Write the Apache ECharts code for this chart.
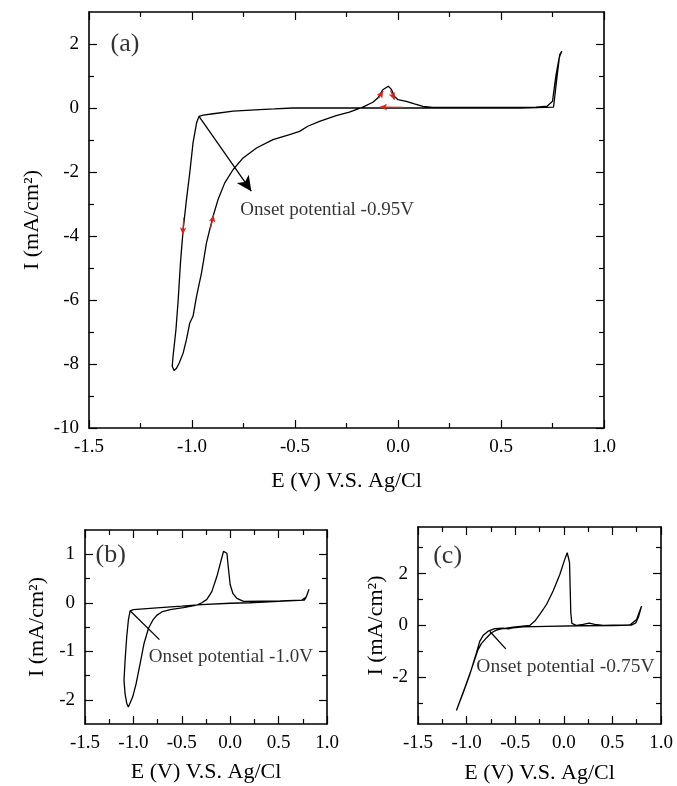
<!DOCTYPE html>
<html>
<head>
<meta charset="utf-8">
<script src="https://cdn.jsdelivr.net/npm/echarts@6/dist/echarts.min.js"></script>
<style>
html,body{margin:0;padding:0;background:#fff;}
#chart{width:677px;height:786px;}
</style>
</head>
<body>
<div id="chart"></div>
<script>
// ---------- DATA ----------
const xMajorTicks = [-1.5, -1.0, -0.5, 0, 0.5, 1.0];
const xMinorTicks = [-1.25, -0.75, -0.25, 0.25, 0.75];
const aYMajorTicks = [-10, -8, -6, -4, -2, 0, 2];
const aYMinorTicks = [-9, -7, -5, -3, -1, 1];
const bYMajorTicks = [-2, -1, 0, 1];
const bYMinorTicks = [-1.5, -0.5, 0.5];
const cYMajorTicks = [-2, 0, 2];
const cYMinorTicks = [-3, -1, 1, 3];

// (a) cyclic voltammogram [E (V), I (mA/cm2)]
const curveA = [
  [0.795,1.77],[0.785,1.67],[0.774,1.09],[0.763,0.47],[0.755,0.03],[0.60,0.0],[0.30,0.0],[0.0,0.0],
  [-0.30,0.0],[-0.51,0.0],[-0.60,-0.03],[-0.672,-0.05],[-0.80,-0.10],[-0.897,-0.18],[-0.946,-0.22],
  [-0.966,-0.26],[-0.978,-0.47],[-0.995,-1.09],[-1.011,-2.03],[-1.027,-2.87],[-1.043,-3.80],
  [-1.056,-4.84],[-1.067,-5.99],[-1.078,-6.93],[-1.092,-7.76],[-1.096,-8.07],[-1.087,-8.20],
  [-1.075,-8.13],[-1.062,-7.97],[-1.043,-7.66],[-1.027,-7.24],[-1.011,-6.72],[-0.995,-6.51],
  [-0.978,-5.89],[-0.954,-5.16],[-0.943,-4.74],[-0.930,-4.22],[-0.914,-3.80],[-0.898,-3.39],
  [-0.874,-2.87],[-0.841,-2.34],[-0.801,-1.93],[-0.752,-1.56],[-0.687,-1.25],[-0.607,-0.99],
  [-0.526,-0.83],[-0.478,-0.73],[-0.438,-0.57],[-0.381,-0.42],[-0.30,-0.24],[-0.236,-0.13],
  [-0.171,0.03],[-0.122,0.18],[-0.098,0.31],[-0.074,0.57],[-0.047,0.68],[-0.033,0.59],
  [-0.017,0.36],[0.0,0.26],[0.04,0.21],[0.08,0.13],[0.121,0.05],[0.169,0.02],[0.40,0.02],
  [0.669,0.03],[0.725,0.06],[0.75,0.21],[0.766,0.99],[0.782,1.56],[0.795,1.77]
];
// (b)
const curveB = [
  [0.814,0.28],[0.786,0.12],[0.766,0.055],[0.50,0.03],[0.20,0.0],[0.0,-0.01],[-0.30,-0.04],
  [-0.50,-0.07],[-0.724,-0.10],[-0.862,-0.12],[-1.0,-0.14],[-1.034,-0.166],[-1.052,-0.36],
  [-1.069,-0.70],[-1.086,-1.19],[-1.097,-1.60],[-1.086,-1.88],[-1.069,-2.07],[-1.052,-2.15],
  [-1.034,-2.12],[-1.007,-1.94],[-0.972,-1.67],[-0.931,-1.26],[-0.890,-0.84],[-0.845,-0.53],
  [-0.80,-0.36],[-0.759,-0.26],[-0.707,-0.19],[-0.621,-0.14],[-0.483,-0.10],[-0.345,-0.05],
  [-0.293,0.0],[-0.241,0.07],[-0.19,0.23],[-0.138,0.54],[-0.097,0.85],[-0.069,1.06],
  [-0.052,1.09],[-0.034,1.02],[-0.017,0.68],[0.0,0.37],[0.028,0.19],[0.069,0.09],[0.138,0.03],
  [0.517,0.04],[0.741,0.055],[0.786,0.12],[0.814,0.28]
];
// (c)
const curveC = [
  [0.80,0.75],[0.77,0.35],[0.74,0.10],[0.70,0.02],[0.508,0.0],[0.165,-0.01],[-0.178,-0.03],
  [-0.419,-0.05],[-0.522,-0.09],[-0.573,-0.13],[-0.625,-0.10],[-0.710,-0.12],[-0.779,-0.22],
  [-0.831,-0.39],[-0.865,-0.61],[-0.899,-1.06],[-0.968,-1.90],[-1.037,-2.61],[-1.105,-3.28],
  [-1.019,-2.41],[-0.951,-1.70],[-0.882,-0.93],[-0.848,-0.70],[-0.796,-0.48],[-0.745,-0.28],
  [-0.693,-0.18],[-0.642,-0.13],[-0.522,-0.06],[-0.35,0.0],[-0.298,0.17],[-0.247,0.43],
  [-0.178,0.81],[-0.110,1.33],[-0.041,1.97],[0.010,2.55],[0.035,2.81],[0.048,2.79],[0.059,2.43],
  [0.065,1.52],[0.072,0.49],[0.083,0.08],[0.131,0.0],[0.199,0.04],[0.261,0.09],[0.319,0.04],
  [0.405,0.0],[0.508,0.01],[0.68,0.02],[0.749,0.23],[0.80,0.75]
];
// onset tangent lines [start, end]
const onsetA = [[-0.966,-0.26],[-0.712,-2.60]];
const onsetB = [[-1.034,-0.166],[-0.731,-0.76]];
const onsetC = [[-0.762,-0.22],[-0.597,-0.90]];
// red sweep-direction arrows in (a) [from, to]
const dirArrowsA = [
  [[-1.040,-3.43],[-1.045,-3.95]],
  [[-0.910,-3.75],[-0.895,-3.35]],
  [[-0.094,0.31],[-0.072,0.53]],
  [[-0.036,0.55],[-0.017,0.26]],
  [[0.023,0.02],[-0.087,0.03]]
];
// annotation texts [x, y, text, size]
const textsA = [[-1.398,1.98,'(a)',26],[-0.768,-3.18,'Onset potential -0.95V',19]];
const textsB = [[-1.397,0.99,'(b)',26],[-0.846,-1.12,'Onset potential -1.0V',19]];
const textsC = [[-1.349,2.69,'(c)',26],[-0.905,-1.58,'Onset potential -0.75V',19.5]];

const yName = 'I (mA/cm\u00B2)';
const xName = 'E (V) V.S. Ag/Cl';

// ---------- BUILD ----------
const FONT = 'Liberation Serif';
const grids = [
  {left:89, top:12, width:515, height:416},
  {left:85, top:530, width:242, height:194},
  {left:418, top:527, width:243, height:197}
];
const yRanges = [[-10,3],[-2.5,1.5],[-3.8,3.8]];
const yMaj = [aYMajorTicks,bYMajorTicks,cYMajorTicks];
const yMin = [aYMinorTicks,bYMinorTicks,cYMinorTicks];
const yNameGap = [45,37,31];
const xNameGap = [42,37,38];

const xAxes = [], yAxes = [];
const lineC = '#000';
grids.forEach((g, gi) => {
  const base = {min:-1.5, max:1.0, gridIndex:gi, splitLine:{show:false}};
  xAxes.push(Object.assign({}, base, {
    type:'value', position:'bottom',
    axisLine:{show:true, onZero:false, lineStyle:{color:lineC, width:1.6}},
    axisTick:{show:true, inside:true, length:8, customValues:xMajorTicks, lineStyle:{color:lineC, width:1.2}},
    axisLabel:{show:true, customValues:xMajorTicks, margin:10, color:'#000', fontFamily:FONT, fontSize:19,
      formatter:v => Number(v).toFixed(1)},
    name:xName, nameLocation:'middle', nameGap:xNameGap[gi],
    nameTextStyle:{color:'#000', fontFamily:FONT, fontSize:22}
  }));
  xAxes.push(Object.assign({}, base, {
    type:'value', position:'bottom',
    axisLine:{show:false, onZero:false}, axisLabel:{show:false},
    axisTick:{show:true, inside:true, length:5, customValues:xMinorTicks, lineStyle:{color:lineC, width:1.2}}
  }));
  xAxes.push(Object.assign({}, base, {
    type:'value', position:'top',
    axisLine:{show:true, onZero:false, lineStyle:{color:lineC, width:1.6}}, axisLabel:{show:false},
    axisTick:{show:true, inside:true, length:8, customValues:xMajorTicks, lineStyle:{color:lineC, width:1.2}}
  }));
  xAxes.push(Object.assign({}, base, {
    type:'value', position:'top',
    axisLine:{show:false, onZero:false}, axisLabel:{show:false},
    axisTick:{show:true, inside:true, length:5, customValues:xMinorTicks, lineStyle:{color:lineC, width:1.2}}
  }));
  const ybase = {min:yRanges[gi][0], max:yRanges[gi][1], gridIndex:gi, splitLine:{show:false}};
  yAxes.push(Object.assign({}, ybase, {
    type:'value', position:'left',
    axisLine:{show:true, onZero:false, lineStyle:{color:lineC, width:1.6}},
    axisTick:{show:true, inside:true, length:8, customValues:yMaj[gi], lineStyle:{color:lineC, width:1.2}},
    axisLabel:{show:true, customValues:yMaj[gi], margin:10, color:'#000', fontFamily:FONT, fontSize:19},
    name:yName, nameLocation:'middle', nameGap:yNameGap[gi],
    nameTextStyle:{color:'#000', fontFamily:FONT, fontSize:22}
  }));
  yAxes.push(Object.assign({}, ybase, {
    type:'value', position:'left',
    axisLine:{show:false, onZero:false}, axisLabel:{show:false},
    axisTick:{show:true, inside:true, length:5, customValues:yMin[gi], lineStyle:{color:lineC, width:1.2}}
  }));
  yAxes.push(Object.assign({}, ybase, {
    type:'value', position:'right',
    axisLine:{show:true, onZero:false, lineStyle:{color:lineC, width:1.6}}, axisLabel:{show:false},
    axisTick:{show:true, inside:true, length:8, customValues:yMaj[gi], lineStyle:{color:lineC, width:1.2}}
  }));
  yAxes.push(Object.assign({}, ybase, {
    type:'value', position:'right',
    axisLine:{show:false, onZero:false}, axisLabel:{show:false},
    axisTick:{show:true, inside:true, length:5, customValues:yMin[gi], lineStyle:{color:lineC, width:1.2}}
  }));
});

function curveSeries(gi, data, onset, arrowHead) {
  return {
    type:'line', xAxisIndex:gi*4, yAxisIndex:gi*4, data:data,
    showSymbol:false, symbol:'none', smooth:false, animation:false, silent:true,
    lineStyle:{color:'#000', width:1.3},
    markLine:{
      silent:true, animation:false,
      symbol:arrowHead ? ['none','arrow'] : ['none','none'],
      symbolSize:[11,15],
      label:{show:false},
      lineStyle:{color:'#000', width:1.3, type:'solid'},
      data:[[{coord:onset[0]},{coord:onset[1]}]]
    }
  };
}
function textSeries(gi, texts) {
  return {
    type:'scatter', xAxisIndex:gi*4, yAxisIndex:gi*4, animation:false, silent:true,
    symbolSize:1, itemStyle:{color:'rgba(0,0,0,0)'},
    data:texts.map(t => ({value:[t[0],t[1]], name:t[2],
      label:{show:true, position:'right', distance:0, formatter:t[2], color:'#000', fontFamily:FONT, fontSize:t[3]}}))
  };
}
const redArrowSeries = {
  type:'line', xAxisIndex:0, yAxisIndex:0, data:[], animation:false, silent:true,
  markLine:{
    silent:true, animation:false, symbol:['none','arrow'], symbolSize:[5,7],
    label:{show:false},
    lineStyle:{color:'#e0201b', width:1.2, type:'solid'},
    data:dirArrowsA.map(a => [{coord:a[0]},{coord:a[1]}])
  }
};

const option = {
  backgroundColor:'#fff',
  animation:false,
  textStyle:{fontFamily:FONT},
  grid:grids.map(g => Object.assign({containLabel:false}, g)),
  xAxis:xAxes,
  yAxis:yAxes,
  series:[
    curveSeries(0, curveA, onsetA, true),
    redArrowSeries,
    curveSeries(1, curveB, onsetB, false),
    curveSeries(2, curveC, onsetC, false),
    textSeries(0, textsA),
    textSeries(1, textsB),
    textSeries(2, textsC)
  ]
};
const chart = echarts.init(document.getElementById('chart'), null, {renderer:'canvas'});
chart.setOption(option);
</script>
</body>
</html>
